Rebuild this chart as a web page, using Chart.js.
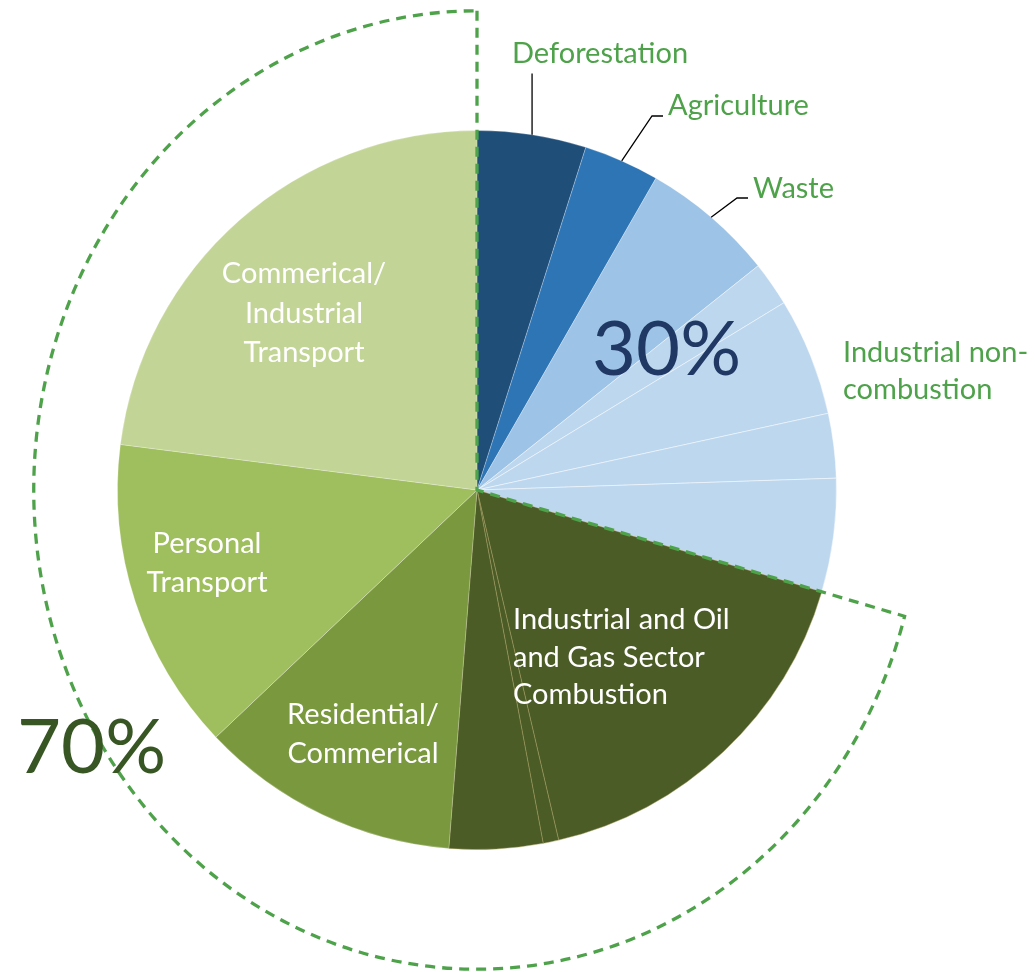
<!DOCTYPE html>
<html><head><meta charset="utf-8">
<script src="https://cdn.jsdelivr.net/npm/chart.js@4/dist/chart.umd.min.js"></script>
<style>html,body{margin:0;padding:0;background:#fff;overflow:hidden;}</style>
</head><body>
<canvas id="c" width="1035" height="972"></canvas>
<script>
// ---- data ----
const categories = [
  "Deforestation", "Agriculture", "Waste",
  "Industrial non-combustion 1", "Industrial non-combustion 2",
  "Industrial non-combustion 3", "Industrial non-combustion 4",
  "Industrial and Oil and Gas Sector Combustion 1",
  "Industrial and Oil and Gas Sector Combustion 2",
  "Industrial and Oil and Gas Sector Combustion 3",
  "Residential/Commerical", "Personal Transport", "Commerical/Industrial Transport"
];
const values = [4.9, 3.4, 6.0, 2.0, 5.3, 2.9, 5.1, 16.8, 0.7, 4.2, 11.7, 14.1, 23.0];
const groupLabels = ["30%", "70%"];
const firstGreenIndex = 7;

// ---- styles ----
const sliceColors = ["#1F4E79", "#2E75B6", "#9DC3E6", "#BDD7EE", "#BDD7EE", "#BDD7EE", "#BDD7EE",
  "#4B5C26", "#4B5C26", "#4B5C26", "#7A983E", "#9FBE5E", "#C2D496"];
const sliceBorders = ["rgba(255,255,255,0.25)", "rgba(255,255,255,0.25)", "rgba(255,255,255,0.25)",
  "rgba(255,255,255,0.45)", "rgba(255,255,255,0.45)", "rgba(255,255,255,0.45)", "rgba(255,255,255,0.45)",
  "rgba(170,160,95,0.45)", "rgba(170,160,95,0.45)", "rgba(170,160,95,0.45)",
  "rgba(255,255,255,0.25)", "rgba(255,255,255,0.25)", "rgba(255,255,255,0.25)"];
const FONT = "Lato";
const labelGreen = "#4EA24A";

const overlay = {
  id: "overlay",
  afterDatasetsDraw(chart) {
    const ctx = chart.ctx;
    const meta = chart.getDatasetMeta(0);
    const a0 = meta.data[0];
    const cx = a0.x, cy = a0.y, R = a0.outerRadius;
    const mid = (i, r) => { const el = meta.data[i]; const a = (el.startAngle + el.endAngle) / 2; return [cx + Math.cos(a) * r, cy + Math.sin(a) * r]; };

    // dashed outline around the 70% group
    const gs = meta.data[firstGreenIndex].startAngle;
    const rx = R * 1.233, ry = R * 1.333;
    const dx = Math.cos(gs), dy = Math.sin(gs);
    const t = 1 / Math.sqrt((dx / rx) ** 2 + (dy / ry) ** 2);
    const px = cx + dx * t, py = cy + dy * t;
    const param = Math.atan2((py - cy) / ry, (px - cx) / rx);
    ctx.save();
    ctx.strokeStyle = labelGreen; ctx.lineWidth = 3.3; ctx.setLineDash([10, 7]);
    ctx.beginPath();
    ctx.moveTo(cx, cy - ry);
    ctx.lineTo(cx, cy);
    ctx.lineTo(px, py);
    ctx.ellipse(cx, cy, rx, ry, 0, param, 1.5 * Math.PI, false);
    ctx.stroke();
    ctx.restore();

    // leader lines
    ctx.save();
    ctx.strokeStyle = "#000"; ctx.lineWidth = 1.3;
    let p = mid(0, R);
    ctx.beginPath(); ctx.moveTo(p[0], p[1]); ctx.lineTo(p[0], cy - R - 57); ctx.stroke();
    p = mid(1, R);
    ctx.beginPath(); ctx.moveTo(p[0], p[1]); ctx.lineTo(cx + 175, cy - 374); ctx.lineTo(cx + 186, cy - 374); ctx.stroke();
    p = mid(2, R);
    ctx.beginPath(); ctx.moveTo(p[0], p[1]); ctx.lineTo(cx + 260, cy - 292); ctx.lineTo(cx + 271, cy - 292); ctx.stroke();
    ctx.restore();

    // outside labels
    ctx.save();
    ctx.fillStyle = labelGreen; ctx.textAlign = "left"; ctx.textBaseline = "alphabetic";
    ctx.font = "29px " + FONT;
    ctx.fillText(categories[0], cx + 35, cy - 427);
    ctx.fillText(categories[1], cx + 191, cy - 375);
    ctx.fillText(categories[2], cx + 276, cy - 292);
    ctx.fillText("Industrial non-", cx + 366, cy - 128);
    ctx.fillText("combustion", cx + 366, cy - 91);

    // inside labels
    ctx.fillStyle = "#FFFFFF";
    ctx.textAlign = "center";
    ctx.fillText("Commerical/", cx - 173, cy - 207);
    ctx.fillText("Industrial", cx - 173, cy - 167);
    ctx.fillText("Transport", cx - 173, cy - 128);
    ctx.fillText("Personal", cx - 270, cy + 63);
    ctx.fillText("Transport", cx - 270, cy + 102);
    ctx.fillText("Residential/", cx - 114, cy + 234);
    ctx.fillText("Commerical", cx - 114, cy + 273);
    ctx.textAlign = "left";
    ctx.fillText("Industrial and Oil", cx + 36, cy + 139);
    ctx.fillText("and Gas Sector", cx + 36, cy + 177);
    ctx.fillText("Combustion", cx + 36, cy + 214);

    // group shares
    ctx.font = "76px " + FONT;
    ctx.fillStyle = "#203864";
    ctx.fillText(groupLabels[0], cx + 115, cy - 115);
    ctx.fillStyle = "#375623";
    ctx.fillText(groupLabels[1], cx - 460, cy + 283);
    ctx.restore();
  }
};

new Chart(document.getElementById("c"), {
  type: "pie",
  data: {
    labels: categories,
    datasets: [{
      data: values,
      backgroundColor: sliceColors,
      borderColor: sliceBorders,
      borderWidth: 1
    }]
  },
  options: {
    responsive: false,
    animation: false,
    layout: { padding: { left: 117, right: 198, top: 130, bottom: 122 } },
    plugins: { legend: { display: false }, tooltip: { enabled: false } }
  },
  plugins: [overlay]
});
</script>
</body></html>
